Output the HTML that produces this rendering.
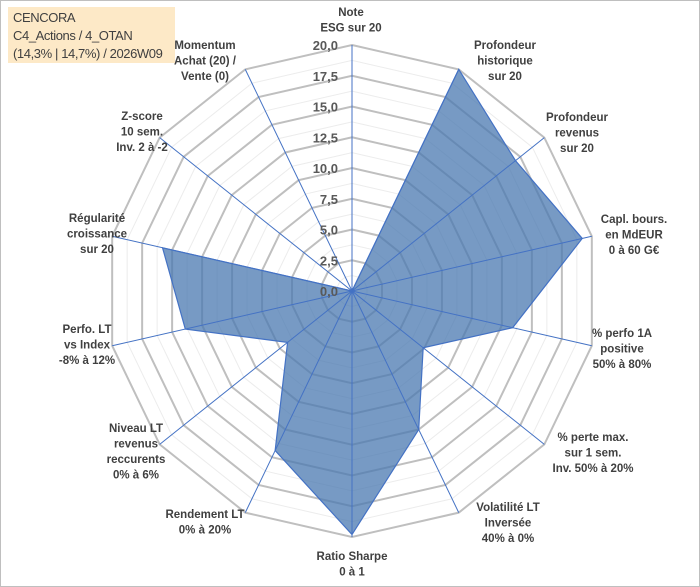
<!DOCTYPE html>
<html><head><meta charset="utf-8"><style>
html,body{margin:0;padding:0;background:#fff}
#wrap{position:relative;width:700px;height:587px;overflow:hidden;font-family:"Liberation Sans",sans-serif}
#frame{position:absolute;left:0;top:0;width:698px;height:585px;border:1px solid #bfbfbf}
#title{position:absolute;left:8px;top:7px;width:167px;height:56px;background:#fde9c7;color:#404040;font-size:13px;line-height:18px;padding:2px 0 0 5px;box-sizing:border-box;white-space:nowrap;letter-spacing:-0.4px;font-family:"Liberation Sans Narrow","Liberation Sans",sans-serif}
svg{position:absolute;left:0;top:0}
</style></head><body>
<div id="wrap">
<div id="frame"></div>
<svg id="chart" width="700" height="587"></svg>
<div id="title">CENCORA<br>C4_Actions / 4_OTAN<br>(14,3% | 14,7%) / 2026W09</div>
</div>
<script>
const categories=[["Note","ESG sur 20"],["Profondeur","historique","sur 20"],["Profondeur","revenus","sur 20"],["Capl. bours.","en MdEUR","0 à 60 G€"],["% perfo 1A","positive","50% à 80%"],["% perte max.","sur 1 sem.","Inv. 50% à 20%"],["Volatilité LT","Inversée","40% à 0%"],["Ratio Sharpe","0 à 1"],["Rendement LT","0% à 20%"],["Niveau LT","revenus","reccurents","0% à 6%"],["Perfo. LT","vs Index","-8% à 12%"],["Régularité","croissance","sur 20"],["Z-score","10 sem.","Inv. 2 à -2"],["Momentum","Achat (20) /","Vente (0)"]];
const values=[0,20,17.0,19.2,13.4,7.4,12.5,19.8,14.4,6.7,13.9,15.8,0,0];
const tickLabels=["0,0","2,5","5,0","7,5","10,0","12,5","15,0","17,5","20,0"];
const maxVal=20;
</script>
<script>
const NS="http://www.w3.org/2000/svg";
const svg=document.getElementById('chart');
const cx=352,cy=291,R=246;
const n=categories.length;
function ang(i){return i*2*Math.PI/n;}
function pt(i,v){const r=v/maxVal*R;return [cx+r*Math.sin(ang(i)),cy-r*Math.cos(ang(i))];}
function mk(t,a){const e=document.createElementNS(NS,t);for(const k in a)e.setAttribute(k,a[k]);svg.appendChild(e);return e;}
for(let k=1;k<=16;k++){
 const v=k*maxVal/16;
 const pts=categories.map((c,i)=>pt(i,v).join(',')).join(' ');
 const el=mk('polygon',{points:pts,fill:'none',stroke:k%2?'#ececec':'#bfbfbf','stroke-width':k%2?1:2});
 
 
}
const spts=values.map((v,i)=>pt(i,v).join(',')).join(' ');
const poly=mk('polygon',{points:spts,fill:'#4a78b0','fill-opacity':0.75,stroke:'#4472c4','stroke-width':1.2});


categories.forEach((c,i)=>{
 const p=pt(i,maxVal);
 const l=mk('line',{x1:cx,y1:cy,x2:p[0],y2:p[1],stroke:'#4472c4','stroke-width':1});
 
 
});
tickLabels.forEach((t,k)=>{
 const y=cy-k*R/(tickLabels.length-1);
 const e=mk('text',{x:338,y:y+5,'text-anchor':'end','font-size':13,'font-weight':'bold',fill:'#595959'});
 e.textContent=t;
 
 
});
const labelPos=[[351,12],[505,45],[577,117],[634,219],[622,333],[593,437],[508,507],[352,556],[205,514],[136,428],[87,329],[97,218],[142,116],[205,45]];
categories.forEach((lines,i)=>{
 const [x,y]=labelPos[i];
 const t=mk('text',{x:x,y:y+4,'text-anchor':'middle','font-size':11.5,'font-weight':'bold',fill:'#404040'});
 
 
 lines.forEach((s,j)=>{const ts=document.createElementNS(NS,'tspan');ts.setAttribute('x',x);ts.setAttribute('dy',j?15.5:0);ts.textContent=s;t.appendChild(ts);});
});
</script>
</body></html>
